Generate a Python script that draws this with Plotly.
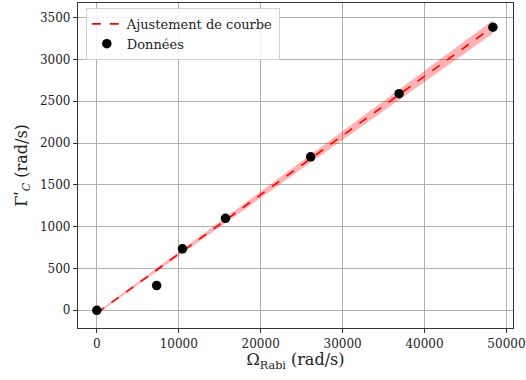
import plotly.graph_objects as go

# donnees mesurees
omega_rabi = [0, 7300, 10450, 15700, 26100, 36900, 48350]
gamma_c = [0, 295, 735, 1100, 1835, 2590, 3385]

# ajustement lineaire et bande d'incertitude
fit_x = [0, 48350]
fit_y = [-35, 3390]
fit_haut = [-25, 3470]
fit_bas = [-45, 3310]

graduations_x = [0, 10000, 20000, 30000, 40000, 50000]
graduations_y = [0, 500, 1000, 1500, 2000, 2500, 3000, 3500]

police = 'DejaVu Serif'

fig = go.Figure()

fig.add_trace(go.Scatter(
    x=fit_x + fit_x[::-1],
    y=fit_haut + fit_bas[::-1],
    mode='lines',
    fill='toself',
    fillcolor='rgba(255,0,0,0.3)',
    line=dict(width=0, color='rgba(255,0,0,0)'),
    hoverinfo='skip',
    showlegend=False,
))

fig.add_trace(go.Scatter(
    x=fit_x,
    y=fit_y,
    mode='lines',
    name='Ajustement de courbe',
    line=dict(color='red', width=1.6, dash='dash'),
))

fig.add_trace(go.Scatter(
    x=omega_rabi,
    y=gamma_c,
    mode='markers',
    name='Données',
    marker=dict(color='black', size=9.5),
))

axe = dict(
    showgrid=True,
    gridcolor='#b0b0b0',
    gridwidth=1,
    zeroline=False,
    showline=True,
    linecolor='#333333',
    linewidth=1.2,
    mirror=True,
    ticks='outside',
    ticklen=4,
    tickcolor='#333333',
    automargin=False,
    tickfont=dict(family=police, size=12, color='#222222'),
)

fig.update_layout(
    width=526,
    height=380,
    margin=dict(l=78, r=13, t=3, b=52),
    plot_bgcolor='white',
    paper_bgcolor='white',
    font=dict(family=police, color='#222222'),
    xaxis=dict(
        axe,
        range=[-2300, 50800],
        tickvals=graduations_x,
        ticktext=[str(v) for v in graduations_x],
        title=dict(text='Ω<sub>Rabi</sub> (rad/s)', font=dict(family=police, size=16), standoff=4),
    ),
    yaxis=dict(
        axe,
        range=[-212, 3675],
        tickvals=graduations_y,
        ticktext=[str(v) for v in graduations_y],
        title=dict(text='Γʹ<sub><i>C</i></sub> (rad/s)', font=dict(family=police, size=16), standoff=8),
    ),
    legend=dict(
        x=0.018,
        y=0.985,
        xanchor='left',
        yanchor='top',
        bgcolor='rgba(255,255,255,0.85)',
        bordercolor='#d0d0d0',
        borderwidth=1,
        font=dict(family=police, size=13),
    ),
)

fig.write_html("out.html", config={'displayModeBar': False},
               post_script="document.body.style.margin='0';")
